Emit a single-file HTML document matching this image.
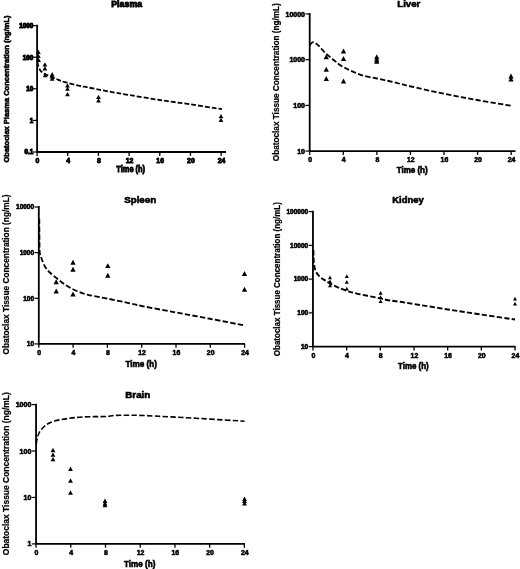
<!DOCTYPE html><html><head><meta charset="utf-8"><style>html,body{margin:0;padding:0;background:#fff}svg{display:block;filter:blur(0.35px)}text{font-family:"Liberation Sans",sans-serif;font-weight:bold;fill:#000}</style></head><body>
<svg width="520" height="569" viewBox="0 0 520 569">
<rect width="100%" height="100%" fill="#fff"/>
<g>
<text x="126.7" y="7.0" font-size="8.6" text-anchor="middle" textLength="31.0" lengthAdjust="spacingAndGlyphs" stroke="#000" stroke-width="0.81">Plasma</text>
<path d="M37.10,24.70 V152.00 H226.00" fill="none" stroke="#000" stroke-width="1.80"/>
<path d="M32.80,25.60 H37.10" stroke="#000" stroke-width="1.20"/>
<text x="33.2" y="27.9" font-size="6.3" text-anchor="end" stroke="#000" stroke-width="1.00">1000</text>
<path d="M32.80,57.20 H37.10" stroke="#000" stroke-width="1.20"/>
<text x="33.2" y="59.5" font-size="6.3" text-anchor="end" stroke="#000" stroke-width="1.00">100</text>
<path d="M32.80,88.80 H37.10" stroke="#000" stroke-width="1.20"/>
<text x="33.2" y="91.1" font-size="6.3" text-anchor="end" stroke="#000" stroke-width="1.00">10</text>
<path d="M32.80,120.40 H37.10" stroke="#000" stroke-width="1.20"/>
<text x="33.2" y="122.7" font-size="6.3" text-anchor="end" stroke="#000" stroke-width="1.00">1</text>
<path d="M32.80,152.00 H37.10" stroke="#000" stroke-width="1.20"/>
<text x="33.2" y="154.3" font-size="6.3" text-anchor="end" stroke="#000" stroke-width="1.00">0.1</text>
<path d="M37.10,152.00 V155.90" stroke="#000" stroke-width="1.30"/>
<text x="37.5" y="162.9" font-size="6.9" text-anchor="middle" stroke="#000" stroke-width="0.80">0</text>
<path d="M67.77,152.00 V155.90" stroke="#000" stroke-width="1.30"/>
<text x="68.2" y="162.9" font-size="6.9" text-anchor="middle" stroke="#000" stroke-width="0.80">4</text>
<path d="M98.44,152.00 V155.90" stroke="#000" stroke-width="1.30"/>
<text x="98.8" y="162.9" font-size="6.9" text-anchor="middle" stroke="#000" stroke-width="0.80">8</text>
<path d="M129.11,152.00 V155.90" stroke="#000" stroke-width="1.30"/>
<text x="129.5" y="162.9" font-size="6.9" text-anchor="middle" stroke="#000" stroke-width="0.80">12</text>
<path d="M159.78,152.00 V155.90" stroke="#000" stroke-width="1.30"/>
<text x="160.2" y="162.9" font-size="6.9" text-anchor="middle" stroke="#000" stroke-width="0.80">16</text>
<path d="M190.45,152.00 V155.90" stroke="#000" stroke-width="1.30"/>
<text x="190.9" y="162.9" font-size="6.9" text-anchor="middle" stroke="#000" stroke-width="0.80">20</text>
<path d="M221.12,152.00 V155.90" stroke="#000" stroke-width="1.30"/>
<text x="221.5" y="162.9" font-size="6.9" text-anchor="middle" stroke="#000" stroke-width="0.80">24</text>
<text x="130.7" y="171.6" font-size="8.4" text-anchor="middle" textLength="28.8" lengthAdjust="spacingAndGlyphs" stroke="#000" stroke-width="0.84">Time (h)</text>
<text transform="translate(8.8,89.0) rotate(-90) scale(1,1.00)" font-size="8" text-anchor="middle" textLength="147.0" lengthAdjust="spacingAndGlyphs" stroke="#000" stroke-width="0.60">Obatoclax Plasma Concentration (ng/mL)</text>
<path d="M37.40,62.00 C37.57,62.75 37.88,65.07 38.40,66.50 C38.92,67.93 39.62,69.43 40.50,70.60 C41.38,71.77 42.45,72.72 43.70,73.50 C44.95,74.28 45.88,74.38 48.00,75.30 C50.12,76.22 53.60,77.85 56.40,79.00 C59.20,80.15 60.87,81.05 64.80,82.20 C68.73,83.35 76.18,85.03 80.00,85.90 C83.82,86.77 83.20,86.52 87.70,87.40 C92.20,88.28 99.95,89.90 107.00,91.20 C114.05,92.50 121.17,93.73 130.00,95.20 C138.83,96.67 150.00,98.48 160.00,100.00 C170.00,101.52 179.67,102.77 190.00,104.30 C200.33,105.83 216.67,108.38 222.00,109.20" fill="none" stroke="#000" stroke-width="1.80" stroke-dasharray="4.85 2.02"/>
<path d="M38.40,49.75 l2.35,4.35 h-4.70 z" fill="#000"/>
<path d="M38.40,53.65 l2.35,4.35 h-4.70 z" fill="#000"/>
<path d="M38.60,57.75 l2.35,4.35 h-4.70 z" fill="#000"/>
<path d="M44.90,62.25 l2.35,4.35 h-4.70 z" fill="#000"/>
<path d="M44.90,66.05 l2.35,4.35 h-4.70 z" fill="#000"/>
<path d="M45.20,72.85 l2.35,4.35 h-4.70 z" fill="#000"/>
<path d="M52.20,72.05 l2.35,4.35 h-4.70 z" fill="#000"/>
<path d="M52.20,74.45 l2.35,4.35 h-4.70 z" fill="#000"/>
<path d="M52.20,76.45 l2.35,4.35 h-4.70 z" fill="#000"/>
<path d="M67.50,83.15 l2.35,4.35 h-4.70 z" fill="#000"/>
<path d="M67.50,86.40 l2.35,4.35 h-4.70 z" fill="#000"/>
<path d="M67.50,91.90 l2.35,4.35 h-4.70 z" fill="#000"/>
<path d="M98.50,94.65 l2.35,4.35 h-4.70 z" fill="#000"/>
<path d="M98.50,98.15 l2.35,4.35 h-4.70 z" fill="#000"/>
<path d="M221.00,113.90 l2.35,4.35 h-4.70 z" fill="#000"/>
<path d="M221.00,117.65 l2.35,4.35 h-4.70 z" fill="#000"/>
</g>
<g>
<text x="408.8" y="7.3" font-size="9.5" text-anchor="middle" textLength="23.0" lengthAdjust="spacingAndGlyphs" stroke="#000" stroke-width="0.60">Liver</text>
<path d="M309.70,13.10 V151.05 H515.50" fill="none" stroke="#000" stroke-width="1.80"/>
<path d="M305.40,14.00 H309.70" stroke="#000" stroke-width="1.20"/>
<text x="305.0" y="16.5" font-size="7.0" text-anchor="end" stroke="#000" stroke-width="0.60">10000</text>
<path d="M305.40,59.70 H309.70" stroke="#000" stroke-width="1.20"/>
<text x="305.0" y="62.2" font-size="7.0" text-anchor="end" stroke="#000" stroke-width="0.60">1000</text>
<path d="M305.40,105.40 H309.70" stroke="#000" stroke-width="1.20"/>
<text x="305.0" y="107.9" font-size="7.0" text-anchor="end" stroke="#000" stroke-width="0.60">100</text>
<path d="M305.40,151.05 H309.70" stroke="#000" stroke-width="1.20"/>
<text x="305.0" y="153.6" font-size="7.0" text-anchor="end" stroke="#000" stroke-width="0.60">10</text>
<path d="M309.70,151.05 V154.95" stroke="#000" stroke-width="1.30"/>
<text x="310.1" y="162.0" font-size="6.9" text-anchor="middle" stroke="#000" stroke-width="0.55">0</text>
<path d="M343.28,151.05 V154.95" stroke="#000" stroke-width="1.30"/>
<text x="343.7" y="162.0" font-size="6.9" text-anchor="middle" stroke="#000" stroke-width="0.55">4</text>
<path d="M376.86,151.05 V154.95" stroke="#000" stroke-width="1.30"/>
<text x="377.3" y="162.0" font-size="6.9" text-anchor="middle" stroke="#000" stroke-width="0.55">8</text>
<path d="M410.44,151.05 V154.95" stroke="#000" stroke-width="1.30"/>
<text x="410.8" y="162.0" font-size="6.9" text-anchor="middle" stroke="#000" stroke-width="0.55">12</text>
<path d="M444.02,151.05 V154.95" stroke="#000" stroke-width="1.30"/>
<text x="444.4" y="162.0" font-size="6.9" text-anchor="middle" stroke="#000" stroke-width="0.55">16</text>
<path d="M477.60,151.05 V154.95" stroke="#000" stroke-width="1.30"/>
<text x="478.0" y="162.0" font-size="6.9" text-anchor="middle" stroke="#000" stroke-width="0.55">20</text>
<path d="M511.18,151.05 V154.95" stroke="#000" stroke-width="1.30"/>
<text x="511.6" y="162.0" font-size="6.9" text-anchor="middle" stroke="#000" stroke-width="0.55">24</text>
<text x="412.2" y="173.1" font-size="8.4" text-anchor="middle" textLength="31.0" lengthAdjust="spacingAndGlyphs" stroke="#000" stroke-width="0.60">Time (h)</text>
<text transform="translate(279.0,82.2) rotate(-90) scale(1,1.18)" font-size="8" text-anchor="middle" textLength="158.0" lengthAdjust="spacingAndGlyphs" stroke="#000" stroke-width="0.20">Obatoclax Tissue Concentration (ng/mL)</text>
<path d="M309.80,45.40 C310.33,44.87 311.58,42.20 313.00,42.20 C314.42,42.20 316.30,43.65 318.30,45.40 C320.30,47.15 322.60,50.40 325.00,52.70 C327.40,55.00 330.13,57.12 332.70,59.20 C335.27,61.28 337.52,63.33 340.40,65.20 C343.28,67.07 346.15,68.65 350.00,70.40 C353.85,72.15 359.00,74.35 363.50,75.70 C368.00,77.05 372.83,77.62 377.00,78.50 C381.17,79.38 384.67,80.12 388.50,81.00 C392.33,81.88 396.42,82.92 400.00,83.80 C403.58,84.67 402.67,84.59 410.00,86.25 C417.33,87.91 432.83,91.46 444.00,93.75 C455.17,96.04 465.83,98.00 477.00,100.00 C488.17,102.00 505.33,104.79 511.00,105.75" fill="none" stroke="#000" stroke-width="1.80" stroke-dasharray="5.31 2.22"/>
<path d="M326.25,54.35 l2.65,4.90 h-5.30 z" fill="#000"/>
<path d="M326.25,66.85 l2.65,4.90 h-5.30 z" fill="#000"/>
<path d="M326.25,76.10 l2.65,4.90 h-5.30 z" fill="#000"/>
<path d="M343.50,48.60 l2.65,4.90 h-5.30 z" fill="#000"/>
<path d="M343.50,56.10 l2.65,4.90 h-5.30 z" fill="#000"/>
<path d="M343.50,78.60 l2.65,4.90 h-5.30 z" fill="#000"/>
<path d="M376.75,54.35 l2.65,4.90 h-5.30 z" fill="#000"/>
<path d="M376.75,56.85 l2.65,4.90 h-5.30 z" fill="#000"/>
<path d="M376.75,58.85 l2.65,4.90 h-5.30 z" fill="#000"/>
<path d="M511.00,73.60 l2.65,4.90 h-5.30 z" fill="#000"/>
<path d="M511.00,76.60 l2.65,4.90 h-5.30 z" fill="#000"/>
</g>
<g>
<text x="140.2" y="203.4" font-size="9.5" text-anchor="middle" textLength="32.0" lengthAdjust="spacingAndGlyphs" stroke="#000" stroke-width="0.60">Spleen</text>
<path d="M38.80,206.10 V343.90 H245.00" fill="none" stroke="#000" stroke-width="1.80"/>
<path d="M34.50,207.00 H38.80" stroke="#000" stroke-width="1.20"/>
<text x="34.1" y="209.3" font-size="6.5" text-anchor="end" stroke="#000" stroke-width="0.60">10000</text>
<path d="M34.50,252.60 H38.80" stroke="#000" stroke-width="1.20"/>
<text x="34.1" y="254.9" font-size="6.5" text-anchor="end" stroke="#000" stroke-width="0.60">1000</text>
<path d="M34.50,298.30 H38.80" stroke="#000" stroke-width="1.20"/>
<text x="34.1" y="300.6" font-size="6.5" text-anchor="end" stroke="#000" stroke-width="0.60">100</text>
<path d="M34.50,343.90 H38.80" stroke="#000" stroke-width="1.20"/>
<text x="34.1" y="346.2" font-size="6.5" text-anchor="end" stroke="#000" stroke-width="0.60">10</text>
<path d="M38.80,343.90 V347.80" stroke="#000" stroke-width="1.30"/>
<text x="39.2" y="354.8" font-size="6.9" text-anchor="middle" stroke="#000" stroke-width="0.55">0</text>
<path d="M73.10,343.90 V347.80" stroke="#000" stroke-width="1.30"/>
<text x="73.5" y="354.8" font-size="6.9" text-anchor="middle" stroke="#000" stroke-width="0.55">4</text>
<path d="M107.40,343.90 V347.80" stroke="#000" stroke-width="1.30"/>
<text x="107.8" y="354.8" font-size="6.9" text-anchor="middle" stroke="#000" stroke-width="0.55">8</text>
<path d="M141.70,343.90 V347.80" stroke="#000" stroke-width="1.30"/>
<text x="142.1" y="354.8" font-size="6.9" text-anchor="middle" stroke="#000" stroke-width="0.55">12</text>
<path d="M176.00,343.90 V347.80" stroke="#000" stroke-width="1.30"/>
<text x="176.4" y="354.8" font-size="6.9" text-anchor="middle" stroke="#000" stroke-width="0.55">16</text>
<path d="M210.30,343.90 V347.80" stroke="#000" stroke-width="1.30"/>
<text x="210.7" y="354.8" font-size="6.9" text-anchor="middle" stroke="#000" stroke-width="0.55">20</text>
<path d="M244.60,343.90 V347.80" stroke="#000" stroke-width="1.30"/>
<text x="245.0" y="354.8" font-size="6.9" text-anchor="middle" stroke="#000" stroke-width="0.55">24</text>
<text x="141.2" y="366.5" font-size="8.4" text-anchor="middle" textLength="31.5" lengthAdjust="spacingAndGlyphs" stroke="#000" stroke-width="0.60">Time (h)</text>
<text transform="translate(9.2,274.5) rotate(-90) scale(1,1.18)" font-size="8" text-anchor="middle" textLength="160.0" lengthAdjust="spacingAndGlyphs" stroke="#000" stroke-width="0.20">Obatoclax Tissue Concentration (ng/mL)</text>
<path d="M39.30,219.00 C39.32,221.67 39.33,229.50 39.40,235.00 C39.47,240.50 39.40,248.25 39.70,252.00 C40.00,255.75 40.40,255.22 41.20,257.50 C42.00,259.78 43.15,263.28 44.50,265.70 C45.85,268.12 47.22,269.87 49.30,272.00 C51.38,274.13 54.42,276.43 57.00,278.50 C59.58,280.57 61.88,282.48 64.80,284.40 C67.72,286.32 70.63,288.27 74.50,290.00 C78.37,291.73 82.52,293.37 88.00,294.80 C93.48,296.23 100.40,297.18 107.40,298.60 C114.40,300.02 124.28,302.07 130.00,303.30 C135.72,304.53 134.08,304.47 141.75,306.00 C149.42,307.53 164.62,310.38 176.00,312.50 C187.38,314.62 198.58,316.58 210.00,318.75 C221.42,320.92 238.75,324.38 244.50,325.50" fill="none" stroke="#000" stroke-width="1.80" stroke-dasharray="5.42 2.26"/>
<path d="M56.20,279.35 l2.65,4.90 h-5.30 z" fill="#000"/>
<path d="M56.20,288.60 l2.65,4.90 h-5.30 z" fill="#000"/>
<path d="M73.00,259.85 l2.65,4.90 h-5.30 z" fill="#000"/>
<path d="M73.00,266.85 l2.65,4.90 h-5.30 z" fill="#000"/>
<path d="M73.00,291.60 l2.65,4.90 h-5.30 z" fill="#000"/>
<path d="M107.80,263.15 l2.65,4.90 h-5.30 z" fill="#000"/>
<path d="M107.80,272.85 l2.65,4.90 h-5.30 z" fill="#000"/>
<path d="M244.50,271.10 l2.65,4.90 h-5.30 z" fill="#000"/>
<path d="M244.50,286.85 l2.65,4.90 h-5.30 z" fill="#000"/>
</g>
<g>
<text x="408.0" y="203.4" font-size="9.5" text-anchor="middle" textLength="31.4" lengthAdjust="spacingAndGlyphs" stroke="#000" stroke-width="0.60">Kidney</text>
<path d="M312.95,210.70 V346.60 H515.50" fill="none" stroke="#000" stroke-width="1.80"/>
<path d="M308.65,211.60 H312.95" stroke="#000" stroke-width="1.20"/>
<text x="308.2" y="213.9" font-size="6.5" text-anchor="end" stroke="#000" stroke-width="0.60">100000</text>
<path d="M308.65,245.35 H312.95" stroke="#000" stroke-width="1.20"/>
<text x="308.2" y="247.7" font-size="6.5" text-anchor="end" stroke="#000" stroke-width="0.60">10000</text>
<path d="M308.65,279.10 H312.95" stroke="#000" stroke-width="1.20"/>
<text x="308.2" y="281.4" font-size="6.5" text-anchor="end" stroke="#000" stroke-width="0.60">1000</text>
<path d="M308.65,312.85 H312.95" stroke="#000" stroke-width="1.20"/>
<text x="308.2" y="315.2" font-size="6.5" text-anchor="end" stroke="#000" stroke-width="0.60">100</text>
<path d="M308.65,346.60 H312.95" stroke="#000" stroke-width="1.20"/>
<text x="308.2" y="348.9" font-size="6.5" text-anchor="end" stroke="#000" stroke-width="0.60">10</text>
<path d="M312.95,346.60 V350.50" stroke="#000" stroke-width="1.30"/>
<text x="313.3" y="357.6" font-size="6.9" text-anchor="middle" stroke="#000" stroke-width="0.55">0</text>
<path d="M346.63,346.60 V350.50" stroke="#000" stroke-width="1.30"/>
<text x="347.0" y="357.6" font-size="6.9" text-anchor="middle" stroke="#000" stroke-width="0.55">4</text>
<path d="M380.31,346.60 V350.50" stroke="#000" stroke-width="1.30"/>
<text x="380.7" y="357.6" font-size="6.9" text-anchor="middle" stroke="#000" stroke-width="0.55">8</text>
<path d="M413.99,346.60 V350.50" stroke="#000" stroke-width="1.30"/>
<text x="414.4" y="357.6" font-size="6.9" text-anchor="middle" stroke="#000" stroke-width="0.55">12</text>
<path d="M447.67,346.60 V350.50" stroke="#000" stroke-width="1.30"/>
<text x="448.1" y="357.6" font-size="6.9" text-anchor="middle" stroke="#000" stroke-width="0.55">16</text>
<path d="M481.35,346.60 V350.50" stroke="#000" stroke-width="1.30"/>
<text x="481.8" y="357.6" font-size="6.9" text-anchor="middle" stroke="#000" stroke-width="0.55">20</text>
<path d="M515.03,346.60 V350.50" stroke="#000" stroke-width="1.30"/>
<text x="515.4" y="357.6" font-size="6.9" text-anchor="middle" stroke="#000" stroke-width="0.55">24</text>
<text x="413.4" y="368.9" font-size="8.4" text-anchor="middle" textLength="30.6" lengthAdjust="spacingAndGlyphs" stroke="#000" stroke-width="0.60">Time (h)</text>
<text transform="translate(280.0,279.2) rotate(-90) scale(1,1.18)" font-size="8" text-anchor="middle" textLength="154.0" lengthAdjust="spacingAndGlyphs" stroke="#000" stroke-width="0.20">Obatoclax Tissue Concentration (ng/mL)</text>
<path d="M313.40,250.00 C313.43,251.33 313.48,255.57 313.60,258.00 C313.72,260.43 313.80,262.53 314.10,264.60 C314.40,266.67 314.55,268.47 315.40,270.40 C316.25,272.33 317.60,274.53 319.20,276.20 C320.80,277.87 322.43,278.80 325.00,280.40 C327.57,282.00 331.07,284.10 334.60,285.80 C338.13,287.50 342.35,289.27 346.20,290.60 C350.05,291.93 352.57,292.62 357.70,293.80 C362.83,294.98 371.87,296.63 377.00,297.70 C382.13,298.77 384.67,299.52 388.50,300.20 C392.33,300.88 395.75,301.17 400.00,301.80 C404.25,302.43 406.00,302.72 414.00,304.00 C422.00,305.28 436.83,307.75 448.00,309.50 C459.17,311.25 469.83,312.83 481.00,314.50 C492.17,316.17 509.33,318.67 515.00,319.50" fill="none" stroke="#000" stroke-width="1.90" stroke-dasharray="5.32 2.22"/>
<path d="M330.00,275.50 l2.00,3.70 h-4.00 z" fill="#000"/>
<path d="M330.00,279.50 l2.00,3.70 h-4.00 z" fill="#000"/>
<path d="M330.00,283.50 l2.00,3.70 h-4.00 z" fill="#000"/>
<path d="M346.75,274.25 l2.00,3.70 h-4.00 z" fill="#000"/>
<path d="M346.75,280.00 l2.00,3.70 h-4.00 z" fill="#000"/>
<path d="M346.75,286.75 l2.00,3.70 h-4.00 z" fill="#000"/>
<path d="M380.60,291.00 l2.00,3.70 h-4.00 z" fill="#000"/>
<path d="M380.60,295.20 l2.00,3.70 h-4.00 z" fill="#000"/>
<path d="M380.60,299.30 l2.00,3.70 h-4.00 z" fill="#000"/>
<path d="M515.00,296.75 l2.00,3.70 h-4.00 z" fill="#000"/>
<path d="M515.00,301.75 l2.00,3.70 h-4.00 z" fill="#000"/>
</g>
<g>
<text x="137.8" y="398.3" font-size="9.5" text-anchor="middle" textLength="25.0" lengthAdjust="spacingAndGlyphs" stroke="#000" stroke-width="0.60">Brain</text>
<path d="M36.05,403.70 V543.90 H245.00" fill="none" stroke="#000" stroke-width="1.80"/>
<path d="M31.75,404.60 H36.05" stroke="#000" stroke-width="1.20"/>
<text x="31.3" y="407.1" font-size="7.0" text-anchor="end" stroke="#000" stroke-width="0.60">1000</text>
<path d="M31.75,451.03 H36.05" stroke="#000" stroke-width="1.20"/>
<text x="31.3" y="453.5" font-size="7.0" text-anchor="end" stroke="#000" stroke-width="0.60">100</text>
<path d="M31.75,497.47 H36.05" stroke="#000" stroke-width="1.20"/>
<text x="31.3" y="500.0" font-size="7.0" text-anchor="end" stroke="#000" stroke-width="0.60">10</text>
<path d="M31.75,543.90 H36.05" stroke="#000" stroke-width="1.20"/>
<text x="31.3" y="546.4" font-size="7.0" text-anchor="end" stroke="#000" stroke-width="0.60">1</text>
<path d="M36.05,543.90 V547.80" stroke="#000" stroke-width="1.30"/>
<text x="36.4" y="554.9" font-size="6.9" text-anchor="middle" stroke="#000" stroke-width="0.55">0</text>
<path d="M70.77,543.90 V547.80" stroke="#000" stroke-width="1.30"/>
<text x="71.2" y="554.9" font-size="6.9" text-anchor="middle" stroke="#000" stroke-width="0.55">4</text>
<path d="M105.49,543.90 V547.80" stroke="#000" stroke-width="1.30"/>
<text x="105.9" y="554.9" font-size="6.9" text-anchor="middle" stroke="#000" stroke-width="0.55">8</text>
<path d="M140.21,543.90 V547.80" stroke="#000" stroke-width="1.30"/>
<text x="140.6" y="554.9" font-size="6.9" text-anchor="middle" stroke="#000" stroke-width="0.55">12</text>
<path d="M174.93,543.90 V547.80" stroke="#000" stroke-width="1.30"/>
<text x="175.3" y="554.9" font-size="6.9" text-anchor="middle" stroke="#000" stroke-width="0.55">16</text>
<path d="M209.65,543.90 V547.80" stroke="#000" stroke-width="1.30"/>
<text x="210.0" y="554.9" font-size="6.9" text-anchor="middle" stroke="#000" stroke-width="0.55">20</text>
<path d="M244.37,543.90 V547.80" stroke="#000" stroke-width="1.30"/>
<text x="244.8" y="554.9" font-size="6.9" text-anchor="middle" stroke="#000" stroke-width="0.55">24</text>
<text x="139.7" y="566.6" font-size="8.4" text-anchor="middle" textLength="31.4" lengthAdjust="spacingAndGlyphs" stroke="#000" stroke-width="0.60">Time (h)</text>
<text transform="translate(8.6,473.7) rotate(-90) scale(1,1.18)" font-size="8" text-anchor="middle" textLength="163.0" lengthAdjust="spacingAndGlyphs" stroke="#000" stroke-width="0.20">Obatoclax Tissue Concentration (ng/mL)</text>
<path d="M36.20,444.00 C36.38,443.00 36.70,440.07 37.30,438.00 C37.90,435.93 38.33,433.78 39.80,431.60 C41.27,429.42 43.65,426.65 46.10,424.90 C48.55,423.15 50.98,422.15 54.50,421.10 C58.02,420.05 62.28,419.30 67.20,418.60 C72.12,417.90 77.67,417.25 84.00,416.90 C90.33,416.55 100.23,416.73 105.20,416.50 C110.17,416.27 110.50,415.72 113.80,415.50 C117.10,415.28 120.63,415.22 125.00,415.20 C129.37,415.18 133.92,415.20 140.00,415.40 C146.08,415.60 151.50,415.88 161.50,416.40 C171.50,416.92 186.15,417.70 200.00,418.50 C213.85,419.30 237.17,420.75 244.60,421.20" fill="none" stroke="#000" stroke-width="1.60" stroke-dasharray="5.49 2.29"/>
<path d="M53.00,447.80 l2.40,4.44 h-4.80 z" fill="#000"/>
<path d="M53.00,452.40 l2.40,4.44 h-4.80 z" fill="#000"/>
<path d="M53.00,456.90 l2.40,4.44 h-4.80 z" fill="#000"/>
<path d="M70.50,466.60 l2.40,4.44 h-4.80 z" fill="#000"/>
<path d="M70.50,478.35 l2.40,4.44 h-4.80 z" fill="#000"/>
<path d="M70.50,490.35 l2.40,4.44 h-4.80 z" fill="#000"/>
<path d="M105.00,498.60 l2.40,4.44 h-4.80 z" fill="#000"/>
<path d="M105.00,501.10 l2.40,4.44 h-4.80 z" fill="#000"/>
<path d="M105.00,502.85 l2.40,4.44 h-4.80 z" fill="#000"/>
<path d="M244.50,496.60 l2.40,4.44 h-4.80 z" fill="#000"/>
<path d="M244.50,498.60 l2.40,4.44 h-4.80 z" fill="#000"/>
<path d="M244.50,501.10 l2.40,4.44 h-4.80 z" fill="#000"/>
</g>
</svg></body></html>
